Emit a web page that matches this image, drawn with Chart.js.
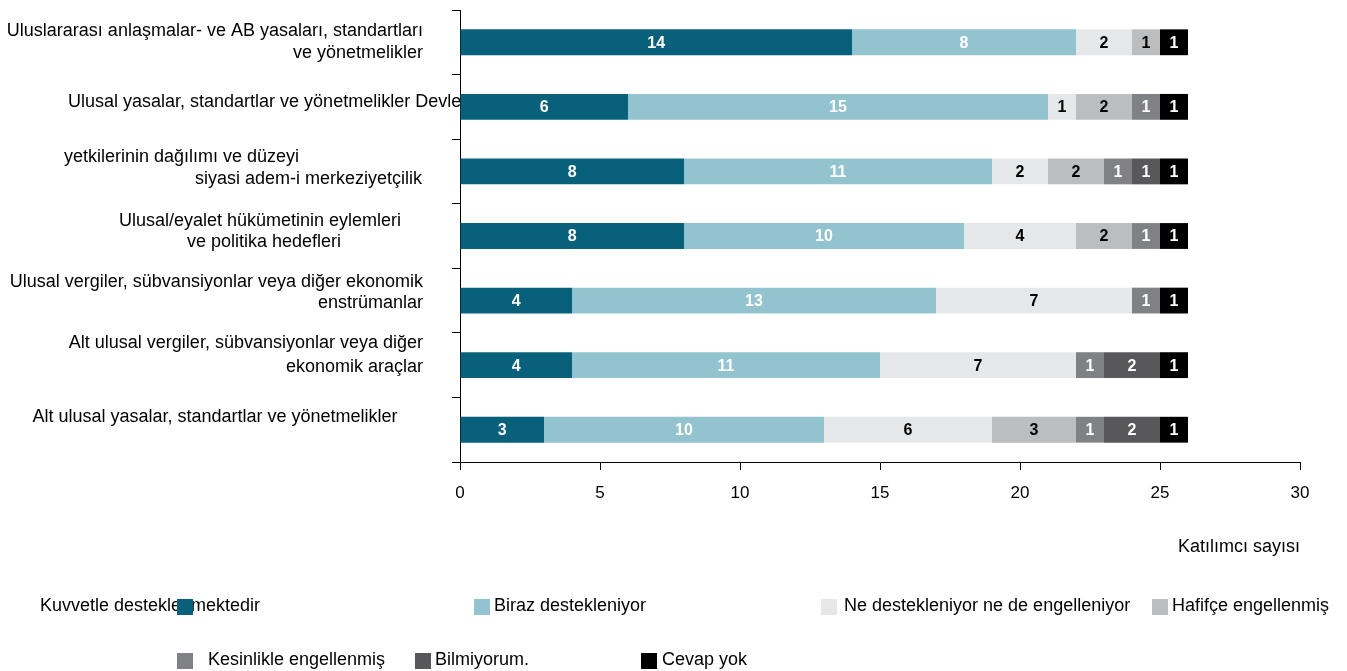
<!DOCTYPE html>
<html>
<head>
<meta charset="utf-8">
<script src="https://cdn.jsdelivr.net/npm/chart.js@4/dist/chart.umd.min.js"></script>
<style>
  html, body { margin: 0; padding: 0; background: #fff; }
  #wrap { position: relative; width: 1347px; height: 671px; }
</style>
</head>
<body>
<div id="wrap"><canvas id="c"></canvas></div>
<script>
// ---- data ----
const categories = [
  ["Uluslararası anlaşmalar- ve AB yasaları, standartları", "ve yönetmelikler"],
  ["Ulusal yasalar, standartlar ve yönetmelikler Devlet"],
  ["yetkilerinin dağılımı ve düzeyi", "siyasi adem-i merkeziyetçilik"],
  ["Ulusal/eyalet hükümetinin eylemleri", "ve politika hedefleri"],
  ["Ulusal vergiler, sübvansiyonlar veya diğer ekonomik", "enstrümanlar"],
  ["Alt ulusal vergiler, sübvansiyonlar veya diğer", "ekonomik araçlar"],
  ["Alt ulusal yasalar, standartlar ve yönetmelikler"]
];
const seriesNames = [
  "Kuvvetle desteklenmektedir",
  "Biraz destekleniyor",
  "Ne destekleniyor ne de engelleniyor",
  "Hafifçe engellenmiş",
  "Kesinlikle engellenmiş",
  "Bilmiyorum.",
  "Cevap yok"
];
const kuvvetle   = [14, 6, 8, 8, 4, 4, 3];
const biraz      = [8, 15, 11, 10, 13, 11, 10];
const neNe       = [2, 1, 2, 4, 7, 7, 6];
const hafifce    = [1, 2, 2, 2, 0, 0, 3];
const kesinlikle = [0, 1, 1, 1, 1, 1, 1];
const bilmiyorum = [0, 0, 1, 0, 0, 2, 2];
const cevapYok   = [1, 1, 1, 1, 1, 1, 1];
const xTicks = [0, 5, 10, 15, 20, 25, 30];
const xTitle = "Katılımcı sayısı";

// ---- styles ----
const colors = ["#09607B", "#92C3CE", "#E6E7E8", "#BCBDBF", "#808184", "#58585A", "#000000"];
const labelColors = ["#fff", "#fff", "#000", "#000", "#fff", "#fff", "#fff"];
const FONT = "'Liberation Sans', Arial, Helvetica, sans-serif";

// y label placement (text layout only)
const yLabelLayout = [
  [{x: 423, align: 'right', dy: -11}, {x: 423, align: 'right', dy: 11}],
  [{x: 68, align: 'left', dy: -5}],
  [{x: 64, align: 'left', dy: -14}, {x: 422, align: 'right', dy: 8}],
  [{x: 260, align: 'center', dy: -15}, {x: 264, align: 'center', dy: 6}],
  [{x: 423, align: 'right', dy: -19}, {x: 423, align: 'right', dy: 2}],
  [{x: 423, align: 'right', dy: -22}, {x: 423, align: 'right', dy: 2}],
  [{x: 215, align: 'center', dy: -13}]
];
// legend placement
const legendLayout = [
  {box: 177, text: 40, y: 606},
  {box: 474, text: 494, y: 606},
  {box: 821, text: 844, y: 606},
  {box: 1152, text: 1172, y: 606},
  {box: 177, text: 208, y: 660},
  {box: 415, text: 435, y: 660},
  {box: 641, text: 662, y: 660}
];

const seriesValues = [kuvvetle, biraz, neNe, hafifce, kesinlikle, bilmiyorum, cevapYok];

const datasets = seriesValues.map((vals, i) => ({
  label: seriesNames[i],
  data: vals,
  backgroundColor: colors[i],
  borderWidth: 0,
  barPercentage: 0.4,
  categoryPercentage: 1.0
}));

const yLabelPlugin = {
  id: 'yLabelPlugin',
  beforeDatasetsDraw(chart) {
    const ctx = chart.ctx;
    const ys = chart.scales.y;
    ctx.save();
    ctx.font = "18px " + FONT;
    ctx.fillStyle = "#000";
    ctx.textBaseline = 'middle';
    categories.forEach((lines, i) => {
      const cy = ys.getPixelForValue(i);
      lines.forEach((line, j) => {
        const l = yLabelLayout[i][j];
        ctx.textAlign = l.align;
        ctx.fillText(line, l.x, cy + l.dy);
      });
    });
    ctx.restore();
  }
};

const valueLabelPlugin = {
  id: 'valueLabelPlugin',
  afterDatasetsDraw(chart) {
    const ctx = chart.ctx;
    ctx.save();
    ctx.font = "bold 16px " + FONT;
    ctx.textAlign = 'center';
    ctx.textBaseline = 'middle';
    chart.data.datasets.forEach((ds, di) => {
      const meta = chart.getDatasetMeta(di);
      meta.data.forEach((el, i) => {
        const v = ds.data[i];
        if (!v) return;
        const p = el.getCenterPoint();
        ctx.fillStyle = labelColors[di];
        ctx.fillText(String(v), p.x, p.y + 1);
      });
    });
    ctx.restore();
  }
};

const legendPlugin = {
  id: 'legendPlugin',
  afterDraw(chart) {
    const ctx = chart.ctx;
    ctx.save();
    ctx.font = "18px " + FONT;
    ctx.textBaseline = 'middle';
    ctx.textAlign = 'left';
    chart.data.datasets.forEach((ds, i) => {
      const l = legendLayout[i];
      ctx.fillStyle = "#000";
      ctx.fillText(ds.label, l.text, l.y);
      ctx.fillStyle = ds.backgroundColor;
      ctx.fillRect(l.box, l.y - 7, 16, 16);
    });
    ctx.restore();
  }
};

new Chart(document.getElementById('c'), {
  type: 'bar',
  data: { labels: categories.map(c => c.join(' ')), datasets },
  options: {
    indexAxis: 'y',
    responsive: true,
    maintainAspectRatio: false,
    animation: false,
    layout: { padding: { left: 8, top: 10, right: 47, bottom: 109 } },
    plugins: { legend: { display: false }, tooltip: { enabled: false } },
    scales: {
      y: {
        stacked: true,
        grid: { drawOnChartArea: false, drawTicks: true, tickLength: 8, color: '#000', lineWidth: 1, offset: true },
        border: { color: '#000', width: 1 },
        ticks: { display: false },
        afterFit(s) { s.width = 452; }
      },
      x: {
        stacked: true,
        min: 0, max: 30,
        afterBuildTicks(s) { s.ticks = xTicks.map(v => ({ value: v })); },
        grid: { drawOnChartArea: false, drawTicks: true, tickLength: 8, color: '#000', lineWidth: 1 },
        border: { color: '#000', width: 1 },
        ticks: { color: '#000', font: { family: FONT, size: 17 }, padding: 13, maxRotation: 0 },
        title: { display: true, text: xTitle, align: 'end', color: '#000', font: { family: FONT, size: 18 }, padding: { top: 0, bottom: 4 } },
        afterFit(s) { s.height = 100; }
      }
    }
  },
  plugins: [yLabelPlugin, valueLabelPlugin, legendPlugin]
});
</script>
</body>
</html>
